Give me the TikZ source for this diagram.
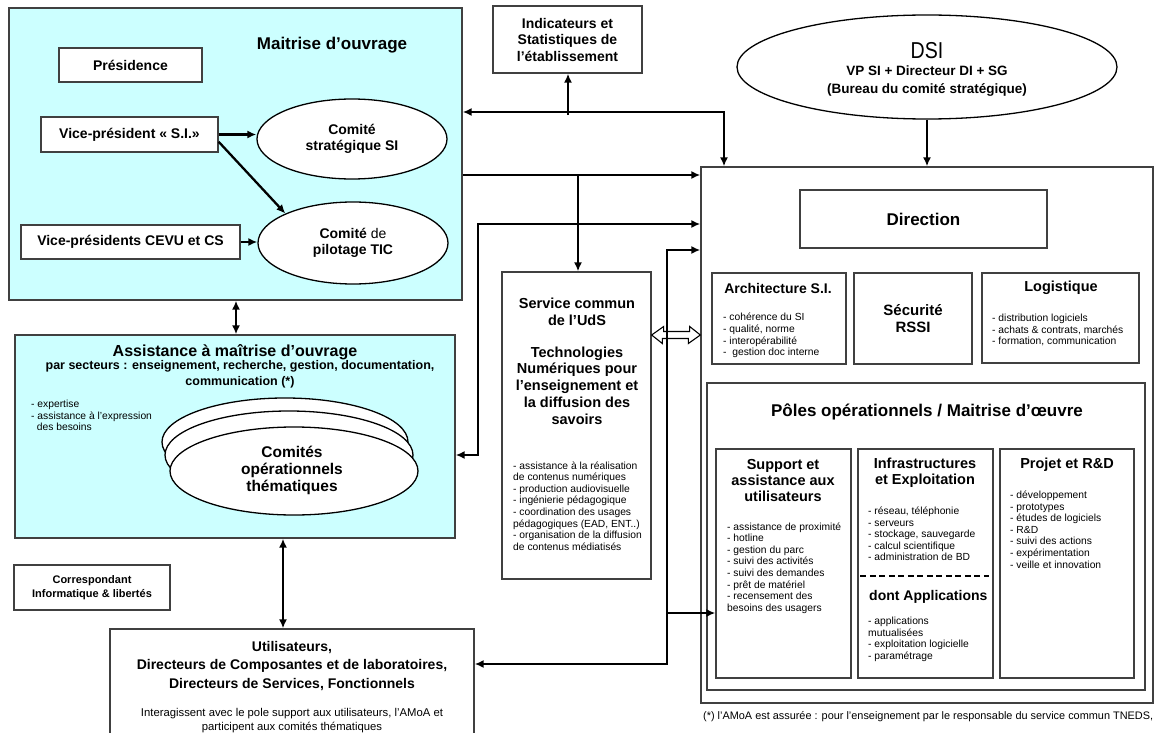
\documentclass[tikz,border=0pt]{standalone}
\usepackage{fontspec}
\setmainfont{Liberation Sans}
\usetikzlibrary{shapes.geometric,arrows.meta,calc}
\definecolor{moa}{HTML}{CCFFFF}
\definecolor{edge}{HTML}{404040}
\newcommand\fsz[2]{\fontsize{#1}{#2}\selectfont}
\tikzset{
  box/.style={draw=edge, line width=1.3pt, fill=white, inner sep=0pt},
  oval/.style={ellipse, draw=black, line width=1.3pt, fill=white, inner sep=0pt},
  conn/.style={line width=2.3pt, -{Latex[length=9pt,width=8pt]}},
  conntwo/.style={line width=2.3pt, {Latex[length=9pt,width=8pt]}-{Latex[length=9pt,width=8pt]}},
  txt/.style={inner sep=0pt, align=center},
  items/.style={inner sep=0pt, align=left, anchor=west, font=\fsz{10.3}{11.6}},
  hb/.style={font=\bfseries\fsz{14}{16.5}},
}
\begin{document}
\begin{tikzpicture}[x=1pt,y=-1pt]
\useasboundingbox (0,0) rectangle (1157,733);
\clip (0,0) rectangle (1157,733);

% ---------- Maitrise d'ouvrage ----------
\node[box, fill=moa, minimum width=453, minimum height=292] (mo) at (235.5,154) {};
\node[txt, font=\bfseries\fsz{17}{20}] (motitle) at (332,45) {Maitrise d’ouvrage};
\node[box, minimum width=143, minimum height=34, hb] (pres) at (130.5,65) {Présidence};
\node[box, minimum width=177, minimum height=35, hb] (vpsi) at (129.5,134.5) {Vice-président « S.I.»};
\node[box, minimum width=219, minimum height=34, hb] (cevu) at (130.5,242) {Vice-présidents CEVU et CS};
\node[oval, minimum width=190, minimum height=80, txt, hb] (cs) at (352,139) {Comité\\stratégique SI};
\node[oval, minimum width=190, minimum height=82, txt, hb] (cp) at (353,243) {Comité {\mdseries de}\\pilotage TIC};
\draw[conn] (vpsi.east) -- (vpsi.east -| cs.west);
\draw[conn] ($(vpsi.south east)!0.3!(vpsi.north east)$) -- (cp.north west);
\draw[conn] (cevu.east) -- (cevu.east -| cp.west);

% ---------- Assistance ----------
\node[box, fill=moa, minimum width=440, minimum height=203] (amo) at (235,436.5) {};
\node[txt, font=\bfseries\fsz{16}{19}] (amotitle) at (235,352) {Assistance à maîtrise d’ouvrage};
\node[txt, font=\bfseries\fsz{12.5}{16.5}] (amosub) at (240,374.5) {par secteurs : enseignement, recherche, gestion, documentation,\\communication (*)};
\node[items, font=\fsz{10.3}{11.5}] (amoitems) at (31,415.5) {- expertise\\- assistance à l’expression\\\ \ des besoins};
\node[oval, minimum width=246, minimum height=88] (cot3) at (285,442) {};
\node[oval, minimum width=248, minimum height=88] (cot2) at (289,455) {};
\node[oval, minimum width=248, minimum height=88] (cot1) at (294,471) {};
\node[txt, font=\bfseries\fsz{15.5}{17}] (cottxt) at (292,470) {Comités\\opérationnels\\thématiques};

\coordinate (xa) at (236,0);
\draw[conntwo] (mo.south -| xa) -- (amo.north -| xa);

% ---------- Bottom left ----------
\node[box, minimum width=156, minimum height=45, txt, font=\bfseries\fsz{11}{13.5}] (corr) at (92,587.5) {Correspondant\\Informatique \& libertés};
\node[box, minimum width=364, minimum height=110] (util) at (292,684) {};
\node[txt, font=\bfseries\fsz{14}{18.5}] (utiltxt) at (292,666) {Utilisateurs,\\Directeurs de Composantes et de laboratoires,\\Directeurs de Services, Fonctionnels};
\node[txt, font=\fsz{11.3}{14}] (utilsub) at (292,721) {Interagissent avec le pole support aux utilisateurs, l’AMoA et\\participent aux comités thématiques};
\coordinate (xb) at (283,0);
\draw[conntwo] (amo.south -| xb) -- (util.north -| xb);

% ---------- Indicateurs ----------
\node[box, minimum width=149, minimum height=67, txt, hb] (indic) at (567.5,39.5) {Indicateurs et\\Statistiques de\\l’établissement};

% ---------- DSI ----------
\node[oval, minimum width=380, minimum height=104] (dsi) at (927,67) {};
\node[txt, font=\fsz{23}{24}] (dsititle) at (927,51) {\scalebox{0.85}[1]{DSI}};
\node[txt, font=\bfseries\fsz{13.5}{18}] (dsisub) at (927,81) {VP SI + Directeur DI + SG\\(Bureau du comité stratégique)};

% ---------- Service commun ----------
\node[box, minimum width=149, minimum height=307] (svc) at (576.5,425.5) {};
\node[txt, font=\bfseries\fsz{14.5}{17}] (svct1) at (577,311.5) {Service commun\\de l’UdS};
\node[txt, font=\bfseries\fsz{14.5}{16.75}] (svct2) at (577,385.5) {Technologies\\Numériques pour\\l’enseignement et\\la diffusion des\\savoirs};
\node[items] (svcitems) at (513,506) {- assistance à la réalisation\\de contenus numériques\\- production audiovisuelle\\- ingénierie pédagogique\\- coordination des usages\\pédagogiques (EAD, ENT..)\\- organisation de la diffusion\\de contenus médiatisés};

% ---------- DSI container ----------
\node[box, minimum width=452, minimum height=536] (ctr) at (927,435) {};
\node[box, minimum width=247, minimum height=58, font=\bfseries\fsz{17}{20}] (dir) at (923.5,219) {Direction};
\node[box, minimum width=134, minimum height=91] (arch) at (779,318.5) {};
\node[txt, hb] (archt) at (778,288) {Architecture S.I.};
\node[items] (archi) at (723,335.5) {- cohérence du SI\\- qualité, norme\\- interopérabilité\\-\ \ gestion doc interne};
\node[box, minimum width=118, minimum height=91, txt, font=\bfseries\fsz{15}{16.5}] (sec) at (913,318.5) {Sécurité\\RSSI};
\node[box, minimum width=157, minimum height=90] (logi) at (1060.5,318) {};
\node[txt, font=\bfseries\fsz{14.5}{16.5}] (logit) at (1061,288) {Logistique};
\node[items] (logii) at (992,330) {- distribution logiciels\\- achats \& contrats, marchés\\- formation, communication};

\node[box, minimum width=438, minimum height=307] (poles) at (926,536.5) {};
\node[txt, font=\bfseries\fsz{17}{20}] (polest) at (927,412) {Pôles opérationnels / Maitrise d’œuvre};
\node[box, minimum width=135, minimum height=229] (sup) at (783.5,563.5) {};
\node[txt, font=\bfseries\fsz{14.5}{16}] (supt) at (783,481) {Support et\\assistance aux\\utilisateurs};
\node[items] (supi) at (727,568) {- assistance de proximité\\- hotline\\- gestion du parc\\- suivi des activités\\- suivi des demandes\\- prêt de matériel\\- recensement des\\besoins des usagers};
\node[box, minimum width=135, minimum height=229] (inf) at (925.5,563.5) {};
\node[txt, font=\bfseries\fsz{14.5}{16}] (inft) at (925,473) {Infrastructures\\et Exploitation};
\node[items] (infi) at (868,534) {- réseau, téléphonie\\- serveurs\\- stockage, sauvegarde\\- calcul scientifique\\- administration de BD};
\coordinate (dl) at (0,576);
\draw[line width=1.6pt, dash pattern=on 6pt off 3.5pt] ([xshift=3pt]inf.west |- dl) -- ([xshift=-5pt]inf.east |- dl);
\node[txt, anchor=west, font=\bfseries\fsz{14}{16}] (appt) at (869,597) {dont Applications};
\node[items] (appi) at (868,639.5) {- applications\\mutualisées\\- exploitation logicielle\\- paramétrage};
\node[box, minimum width=134, minimum height=229] (proj) at (1067,563.5) {};
\node[txt, font=\bfseries\fsz{14.5}{16}] (projt) at (1067,465) {Projet et R\&D};
\node[items] (proji) at (1010,529.5) {- développement\\- prototypes\\- études de logiciels\\- R\&D\\- suivi des actions\\- expérimentation\\- veille et innovation};

% ---------- footnote ----------
\node[txt, anchor=west, font=\fsz{10.9}{12}] (foot) at (703,717) {(*) l’AMoA est assurée : pour l’enseignement par le responsable du service commun TNEDS,};

% ---------- connectors ----------
\coordinate (j1) at (724,112);
\coordinate (j2) at (568,112);
\draw[conntwo] (mo.east |- j1) -- (j1) -- (ctr.north -| j1);
\draw[conn] ([yshift=-3pt]j2) -- (indic.south -| j2);
\draw[conn] (dsi.south) -- (ctr.north -| dsi.south);

\coordinate (j3) at (578,175);
\draw[conn] (mo.east |- j3) -- (ctr.west |- j3);
\draw[conn] (j3) -- (svc.north -| j3);

\coordinate (j4) at (478,224);
\coordinate (j5) at (478,455);
\draw[conntwo] (amo.east |- j5) -- (j5) -- (j4) -- (ctr.west |- j4);

% hollow double arrow between service commun and DSI
\coordinate (dblc) at (676,335);
\draw[line width=1.1pt, fill=white, line join=miter] (svc.east |- dblc) -- ++(12,-8.5) -- ++(0,5) -- ++(26,0) -- ++(0,-5) -- (ctr.west |- dblc) -- ++(-12,8.5) -- ++(0,-5) -- ++(-26,0) -- ++(0,5) -- cycle;

\coordinate (j6) at (667,250);
\coordinate (j7) at (667,664);
\coordinate (j8) at (667,613);
\draw[conntwo] (util.east |- j7) -- (j7) -- (j6) -- (ctr.west |- j6);
\draw[conn] (j8) -- (sup.west |- j8);
\end{tikzpicture}
\end{document}
